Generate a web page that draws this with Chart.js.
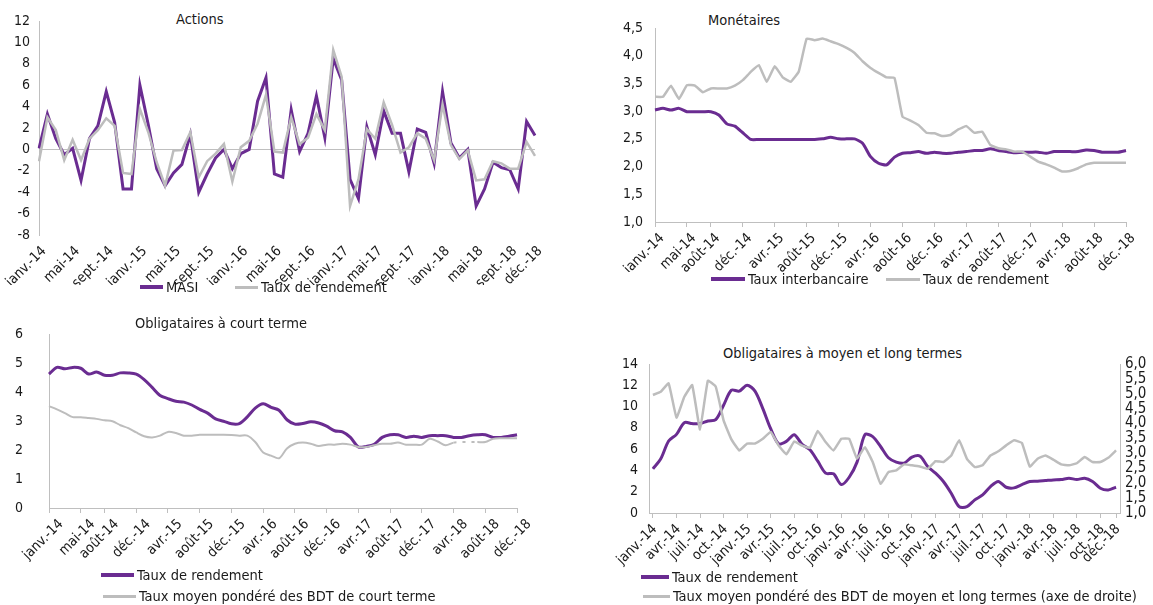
<!DOCTYPE html>
<html lang="fr">
<head>
<meta charset="utf-8">
<title>Rendements des OPCVM</title>
<script src="https://cdn.jsdelivr.net/npm/chart.js@4.4.1/dist/chart.umd.min.js"></script>
<style>
  body { margin: 0; background: #fff; }
  #page { position: relative; width: 1153px; height: 605px; overflow: hidden;
          font-family: "DejaVu Sans Condensed", "Liberation Sans", Arial, sans-serif; color: #1a1a1a; }
  canvas { position: absolute; }
  .titre, .item { position: absolute; font-size: 14.5px; line-height: 18px; white-space: nowrap; }
  .item { display: flex; align-items: center; }
  .trait { display: inline-block; margin-right: 3px; }
  .violet { background: #6a2c91; height: 4px; }
  .gris { background: #bdbdbd; height: 3px; }
</style>
</head>
<body>
<div id="page">
  <div class="titre" style="left:176px; top:10px">Actions</div>
  <canvas id="actionsChart" width="545" height="285" style="left:0; top:0"></canvas>
  <div class="item" style="left:140px; top:278px"><span class="trait violet" style="width:23px"></span>MASI</div>
  <div class="item" style="left:235px; top:278px"><span class="trait gris" style="width:23px"></span>Taux de rendement</div>

  <div class="titre" style="left:708px; top:11px">Monétaires</div>
  <canvas id="monetairesChart" width="553" height="272" style="left:600px; top:0"></canvas>
  <div class="item" style="left:711px; top:270px"><span class="trait violet" style="width:34px"></span>Taux interbancaire</div>
  <div class="item" style="left:886px; top:270px"><span class="trait gris" style="width:34px"></span>Taux de rendement</div>

  <div class="titre" style="left:135px; top:314px">Obligataires à court terme</div>
  <canvas id="courtTermeChart" width="545" height="262" style="left:0; top:300px"></canvas>
  <div class="item" style="left:101px; top:566px"><span class="trait violet" style="width:33px"></span>Taux de rendement</div>
  <div class="item" style="left:103px; top:587px"><span class="trait gris" style="width:33px"></span>Taux moyen pondéré des BDT de court terme</div>

  <div class="titre" style="left:723px; top:344px">Obligataires à moyen et long termes</div>
  <canvas id="mltChart" width="563" height="240" style="left:590px; top:330px"></canvas>
  <div class="item" style="left:641px; top:568px"><span class="trait violet" style="width:28px"></span>Taux de rendement</div>
  <div class="item" style="left:643px; top:587px"><span class="trait gris" style="width:27px"></span>Taux moyen pondéré des BDT de moyen et long termes (axe de droite)</div>
</div>

<script>
// Mois de janvier 2014 à décembre 2018
const mois = ['janv.', 'févr.', 'mars', 'avr.', 'mai', 'juin', 'juil.', 'août', 'sept.', 'oct.', 'nov.', 'déc.'];
const annees = ['14', '15', '16', '17', '18'];
const periodes = annees.flatMap(a => mois.map(m => m + '-' + a));

// Actions (variation mensuelle, %)
const masi = [0.1, 3.3, 1.0, -0.5, 0.1, -2.9, 1.0, 2.2, 5.4, 2.5, -3.7, -3.7,
    6.0, 2.3, -1.8, -3.4, -2.2, -1.4, 1.4, -4.0, -2.3, -0.8, 0.0, -1.8,
    -0.4, 0.0, 4.5, 6.7, -2.3, -2.6, 3.7, -0.2, 1.5, 5.0, 1.1, 8.5,
    6.5, -2.8, -4.6, 2.1, -0.5, 3.6, 1.5, 1.5, -2.1, 1.9, 1.6, -1.3,
    5.4, 0.6, -0.8, 0.0, -5.3, -3.7, -1.2, -1.7, -1.9, -3.7, 2.6, 1.3];
const tauxActions = [-1.1, 3.0, 1.8, -1.0, 0.9, -1.0, 1.0, 1.8, 2.9, 2.2, -2.2, -2.3,
    3.8, 1.6, -1.2, -3.4, -0.1, -0.05, 1.6, -2.6, -1.1, -0.4, 0.5, -3.0,
    0.2, 0.8, 2.4, 5.1, -0.2, -0.3, 3.0, 0.5, 1.1, 3.3, 1.8, 9.3,
    6.8, -5.3, -2.8, 1.9, 1.0, 4.4, 2.3, -0.3, 0.2, 1.5, 1.0, -1.0,
    4.2, 0.4, -0.9, -0.1, -2.9, -2.8, -1.1, -1.3, -1.8, -1.8, 0.7, -0.6];

// Monétaires (%)
const interbancaire = [3.02, 3.05, 3.02, 3.05, 2.99, 2.99, 2.99, 2.99, 2.93, 2.77, 2.73, 2.61,
    2.49, 2.49, 2.49, 2.49, 2.49, 2.49, 2.49, 2.49, 2.49, 2.50, 2.53, 2.50,
    2.50, 2.50, 2.42, 2.18, 2.06, 2.03, 2.17, 2.24, 2.25, 2.27, 2.24, 2.26,
    2.24, 2.24, 2.26, 2.27, 2.29, 2.29, 2.32, 2.29, 2.27, 2.25, 2.26, 2.26,
    2.26, 2.24, 2.27, 2.27, 2.27, 2.27, 2.30, 2.29, 2.26, 2.26, 2.26, 2.29];
const tauxMonetaires = [3.26, 3.26, 3.46, 3.22, 3.47, 3.46, 3.34, 3.41, 3.41, 3.41, 3.46, 3.56,
    3.71, 3.83, 3.53, 3.81, 3.61, 3.53, 3.71, 4.31, 4.28, 4.31, 4.26, 4.21,
    4.14, 4.05, 3.90, 3.78, 3.69, 3.61, 3.60, 2.90, 2.83, 2.75, 2.61, 2.60,
    2.55, 2.57, 2.67, 2.73, 2.61, 2.63, 2.39, 2.33, 2.31, 2.27, 2.27, 2.18,
    2.09, 2.04, 1.98, 1.91, 1.92, 1.97, 2.04, 2.07, 2.07, 2.07, 2.07, 2.07];

// Obligataires à court terme (%)
const tauxCourtTerme = [4.63, 4.86, 4.81, 4.86, 4.83, 4.63, 4.70, 4.59, 4.59, 4.67, 4.67, 4.63,
    4.44, 4.17, 3.89, 3.78, 3.69, 3.66, 3.56, 3.41, 3.28, 3.08, 3.00, 2.91,
    2.92, 3.15, 3.45, 3.60, 3.48, 3.38, 3.05, 2.90, 2.92, 2.98, 2.94, 2.83,
    2.67, 2.63, 2.44, 2.11, 2.13, 2.20, 2.44, 2.53, 2.53, 2.44, 2.48, 2.44,
    2.50, 2.50, 2.50, 2.44, 2.44, 2.50, 2.53, 2.53, 2.44, 2.44, 2.48, 2.53];
const bdtCourtTerme = [3.52, 3.41, 3.28, 3.14, 3.14, 3.11, 3.08, 3.03, 3.00, 2.86, 2.76, 2.61,
    2.48, 2.44, 2.50, 2.63, 2.59, 2.50, 2.50, 2.53, 2.53, 2.53, 2.53, 2.52,
    2.50, 2.50, 2.28, 1.92, 1.81, 1.72, 2.06, 2.22, 2.26, 2.22, 2.14, 2.19,
    2.19, 2.22, 2.19, 2.11, 2.11, 2.17, 2.22, 2.22, 2.26, 2.19, 2.19, 2.19,
    2.39, 2.30, 2.17, 2.26, 2.28, 2.28, 2.28, 2.28, 2.39, 2.41, 2.41, 2.41];

// Obligataires à moyen et long termes (%)
const tauxMLT = [4.15, 5.09, 6.76, 7.39, 8.49, 8.40, 8.40, 8.65, 8.77, 10.13, 11.54, 11.45,
    12.01, 11.45, 9.81, 7.92, 6.51, 6.73, 7.36, 6.45, 5.94, 4.87, 3.74, 3.68,
    2.67, 3.36, 4.78, 7.36, 7.18, 6.25, 5.19, 4.78, 4.69, 5.25, 5.35, 4.37,
    3.74, 2.96, 1.86, 0.60, 0.60, 1.23, 1.70, 2.48, 2.96, 2.42, 2.36, 2.67,
    2.96, 2.99, 3.05, 3.11, 3.14, 3.27, 3.14, 3.27, 2.96, 2.33, 2.17, 2.42];
const bdtMLT = [4.96, 5.07, 5.35, 4.20, 4.90, 5.29, 3.80, 5.44, 5.24, 4.11, 3.47, 3.10,
    3.33, 3.33, 3.49, 3.72, 3.27, 2.97, 3.40, 3.26, 3.19, 3.75, 3.38, 3.10,
    3.49, 3.49, 2.82, 3.21, 2.71, 1.98, 2.37, 2.43, 2.63, 2.60, 2.56, 2.48,
    2.74, 2.71, 2.93, 3.44, 2.82, 2.54, 2.60, 2.93, 3.07, 3.27, 3.44, 3.35,
    2.56, 2.82, 2.93, 2.79, 2.63, 2.60, 2.67, 2.88, 2.71, 2.71, 2.85, 3.10];

// Etiquettes affichées sur l'axe des abscisses et leur rang dans les périodes
const etiquettesActions = ['janv.-14', 'mai-14', 'sept.-14', 'janv.-15', 'mai-15', 'sept.-15', 'janv.-16', 'mai-16',
    'sept.-16', 'janv.-17', 'mai-17', 'sept.-17', 'janv.-18', 'mai-18', 'sept.-18', 'déc.-18'];
const rangsActions = [0, 4, 8, 12, 16, 20, 24, 28, 32, 36, 40, 44, 48, 52, 56, 59];
const etiquettesMonetaires = ['janv.-14', 'mai-14', 'août-14', 'déc.-14', 'avr.-15', 'août-15', 'déc.-15', 'avr.-16',
    'août-16', 'déc.-16', 'avr.-17', 'août-17', 'déc.-17', 'avr.-18', 'août-18', 'déc.-18'];
const rangsMonetaires = [0, 4, 7, 11, 15, 19, 23, 27, 31, 35, 39, 43, 47, 51, 55, 59];
const etiquettesMLT = ['janv.-14', 'avr.-14', 'juil.-14', 'oct.-14', 'janv.-15', 'avr.-15', 'juil.-15', 'oct.-16',
    'janv.-16', 'avr.-16', 'juil.-16', 'oct.-16', 'janv.-17', 'avr.-17', 'juil.-17', 'oct.-17',
    'janv.-18', 'avr.-18', 'juil.-18', 'oct.-18', 'déc.-18'];
const rangsMLT = [0, 3, 6, 9, 12, 15, 18, 21, 24, 27, 30, 33, 36, 39, 42, 45, 48, 51, 54, 57, 59];

const VIOLET = '#6a2c91';
const GRIS = '#bdbdbd';
const GRIS_AXE = '#bfbfbf';

Chart.defaults.font.family = '"DejaVu Sans Condensed", "Liberation Sans", Arial, sans-serif';
Chart.defaults.font.size = 14;
Chart.defaults.color = '#1a1a1a';

document.addEventListener('DOMContentLoaded', function () {
    drawActions(document.getElementById('actionsChart'));
    drawMonetaires(document.getElementById('monetairesChart'));
    drawCourtTerme(document.getElementById('courtTermeChart'));
    drawMLT(document.getElementById('mltChart'));
});

// Axe des abscisses : catégories mensuelles, seules quelques étiquettes affichées
function xAxis(etiquettes, rangs, hauteur, avecTraits, decalage) {
    const parRang = {};
    rangs.forEach((r, i) => { parRang[r] = etiquettes[i]; });
    return {
        ticks: {
            autoSkip: false, minRotation: 45, maxRotation: 45, padding: 3,
            labelOffset: decalage,
            font: { size: 14 },
            callback: (v, i) => (i in parRang ? parRang[i] : null)
        },
        grid: { display: avecTraits, drawOnChartArea: false, tickLength: 5, color: GRIS_AXE },
        border: { display: avecTraits, color: GRIS_AXE },
        afterFit: s => { s.height = hauteur; s.paddingLeft = 0; s.paddingRight = 0; }
    };
}

function yAxis(min, max, pas, largeur, marge, decimale) {
    return {
        min: min, max: max,
        ticks: {
            stepSize: pas, padding: marge, autoSkip: false,
            callback: v => decimale ? v.toFixed(1).replace('.', ',') : v
        },
        grid: { display: false, drawTicks: false },
        border: { color: GRIS_AXE },
        afterFit: s => { s.width = largeur; }
    };
}

function ligne(label, data, couleur, epaisseur, extra) {
    return Object.assign({
        label: label, data: data, borderColor: couleur, backgroundColor: couleur,
        borderWidth: epaisseur, pointRadius: 0, fill: false
    }, extra || {});
}

function baseOptions(padding, scales) {
    return {
        responsive: false, animation: false,
        layout: { padding: padding },
        plugins: { legend: { display: false }, title: { display: false } },
        scales: scales
    };
}

function drawActions(canvas) {
    const y = yAxis(-8, 12, 2, 39, 9, false);
    // la ligne du zéro sert d'axe horizontal
    y.grid = { display: true, drawTicks: false, color: c => (c.tick && c.tick.value === 0 ? GRIS_AXE : 'transparent') };
    new Chart(canvas, {
        type: 'line',
        data: {
            labels: periodes,
            datasets: [
                ligne('MASI', masi, VIOLET, 3, { order: 1 }),
                ligne('Taux de rendement', tauxActions, GRIS, 2.5, { order: 0 })
            ]
        },
        options: baseOptions({ top: 21, right: 10, left: 0, bottom: 0 }, {
            x: xAxis(etiquettesActions, rangsActions, 50, false, 5),
            y: y
        })
    });
}

function drawMonetaires(canvas) {
    new Chart(canvas, {
        type: 'line',
        data: {
            labels: periodes,
            datasets: [
                ligne('Taux interbancaire', interbancaire, VIOLET, 3, { order: 1, tension: 0.2 }),
                ligne('Taux de rendement', tauxMonetaires, GRIS, 2.5, { order: 0, tension: 0.1 })
            ]
        },
        options: baseOptions({ top: 28, right: 27, left: 0, bottom: 0 }, {
            x: xAxis(etiquettesMonetaires, rangsMonetaires, 50, true, 7),
            y: yAxis(1, 4.5, 0.5, 55, 12, true)
        })
    });
}

function drawCourtTerme(canvas) {
    new Chart(canvas, {
        type: 'line',
        data: {
            labels: periodes,
            datasets: [
                ligne('Taux de rendement', tauxCourtTerme, VIOLET, 3, { order: 1, tension: 0.3 }),
                ligne('Taux moyen pondéré des BDT de court terme', bdtCourtTerme, GRIS, 2, {
                    order: 0, tension: 0.3,
                    // mois sans adjudication : tracé en pointillés
                    segment: { borderDash: c => (c.p0DataIndex >= 51 && c.p0DataIndex < 54 ? [3, 6] : undefined) }
                })
            ]
        },
        options: baseOptions({ top: 28, right: 28, left: 0, bottom: 0 }, {
            x: xAxis(etiquettesMonetaires, rangsMonetaires, 54, true, 12),
            y: yAxis(0, 6, 1, 49, 26, false)
        })
    });
}

function drawMLT(canvas) {
    const x = xAxis(etiquettesMLT, rangsMLT, 57, true, 2);
    x.offset = true;
    const y1 = yAxis(1, 6, 0.5, 33, 5, true);
    y1.position = 'right';
    y1.ticks.font = { size: 15 };
    new Chart(canvas, {
        type: 'line',
        data: {
            labels: periodes,
            datasets: [
                ligne('Taux de rendement', tauxMLT, VIOLET, 3, { order: 1, tension: 0.3, yAxisID: 'y' }),
                ligne('Taux moyen pondéré des BDT de moyen et long termes (axe de droite)', bdtMLT, GRIS, 2.5,
                    { order: 0, tension: 0.1, yAxisID: 'y1' })
            ]
        },
        options: baseOptions({ top: 34, right: 0, left: 0, bottom: 0 }, {
            x: x,
            y: yAxis(0, 14, 2, 59, 11, false),
            y1: y1
        })
    });
}
</script>
</body>
</html>
